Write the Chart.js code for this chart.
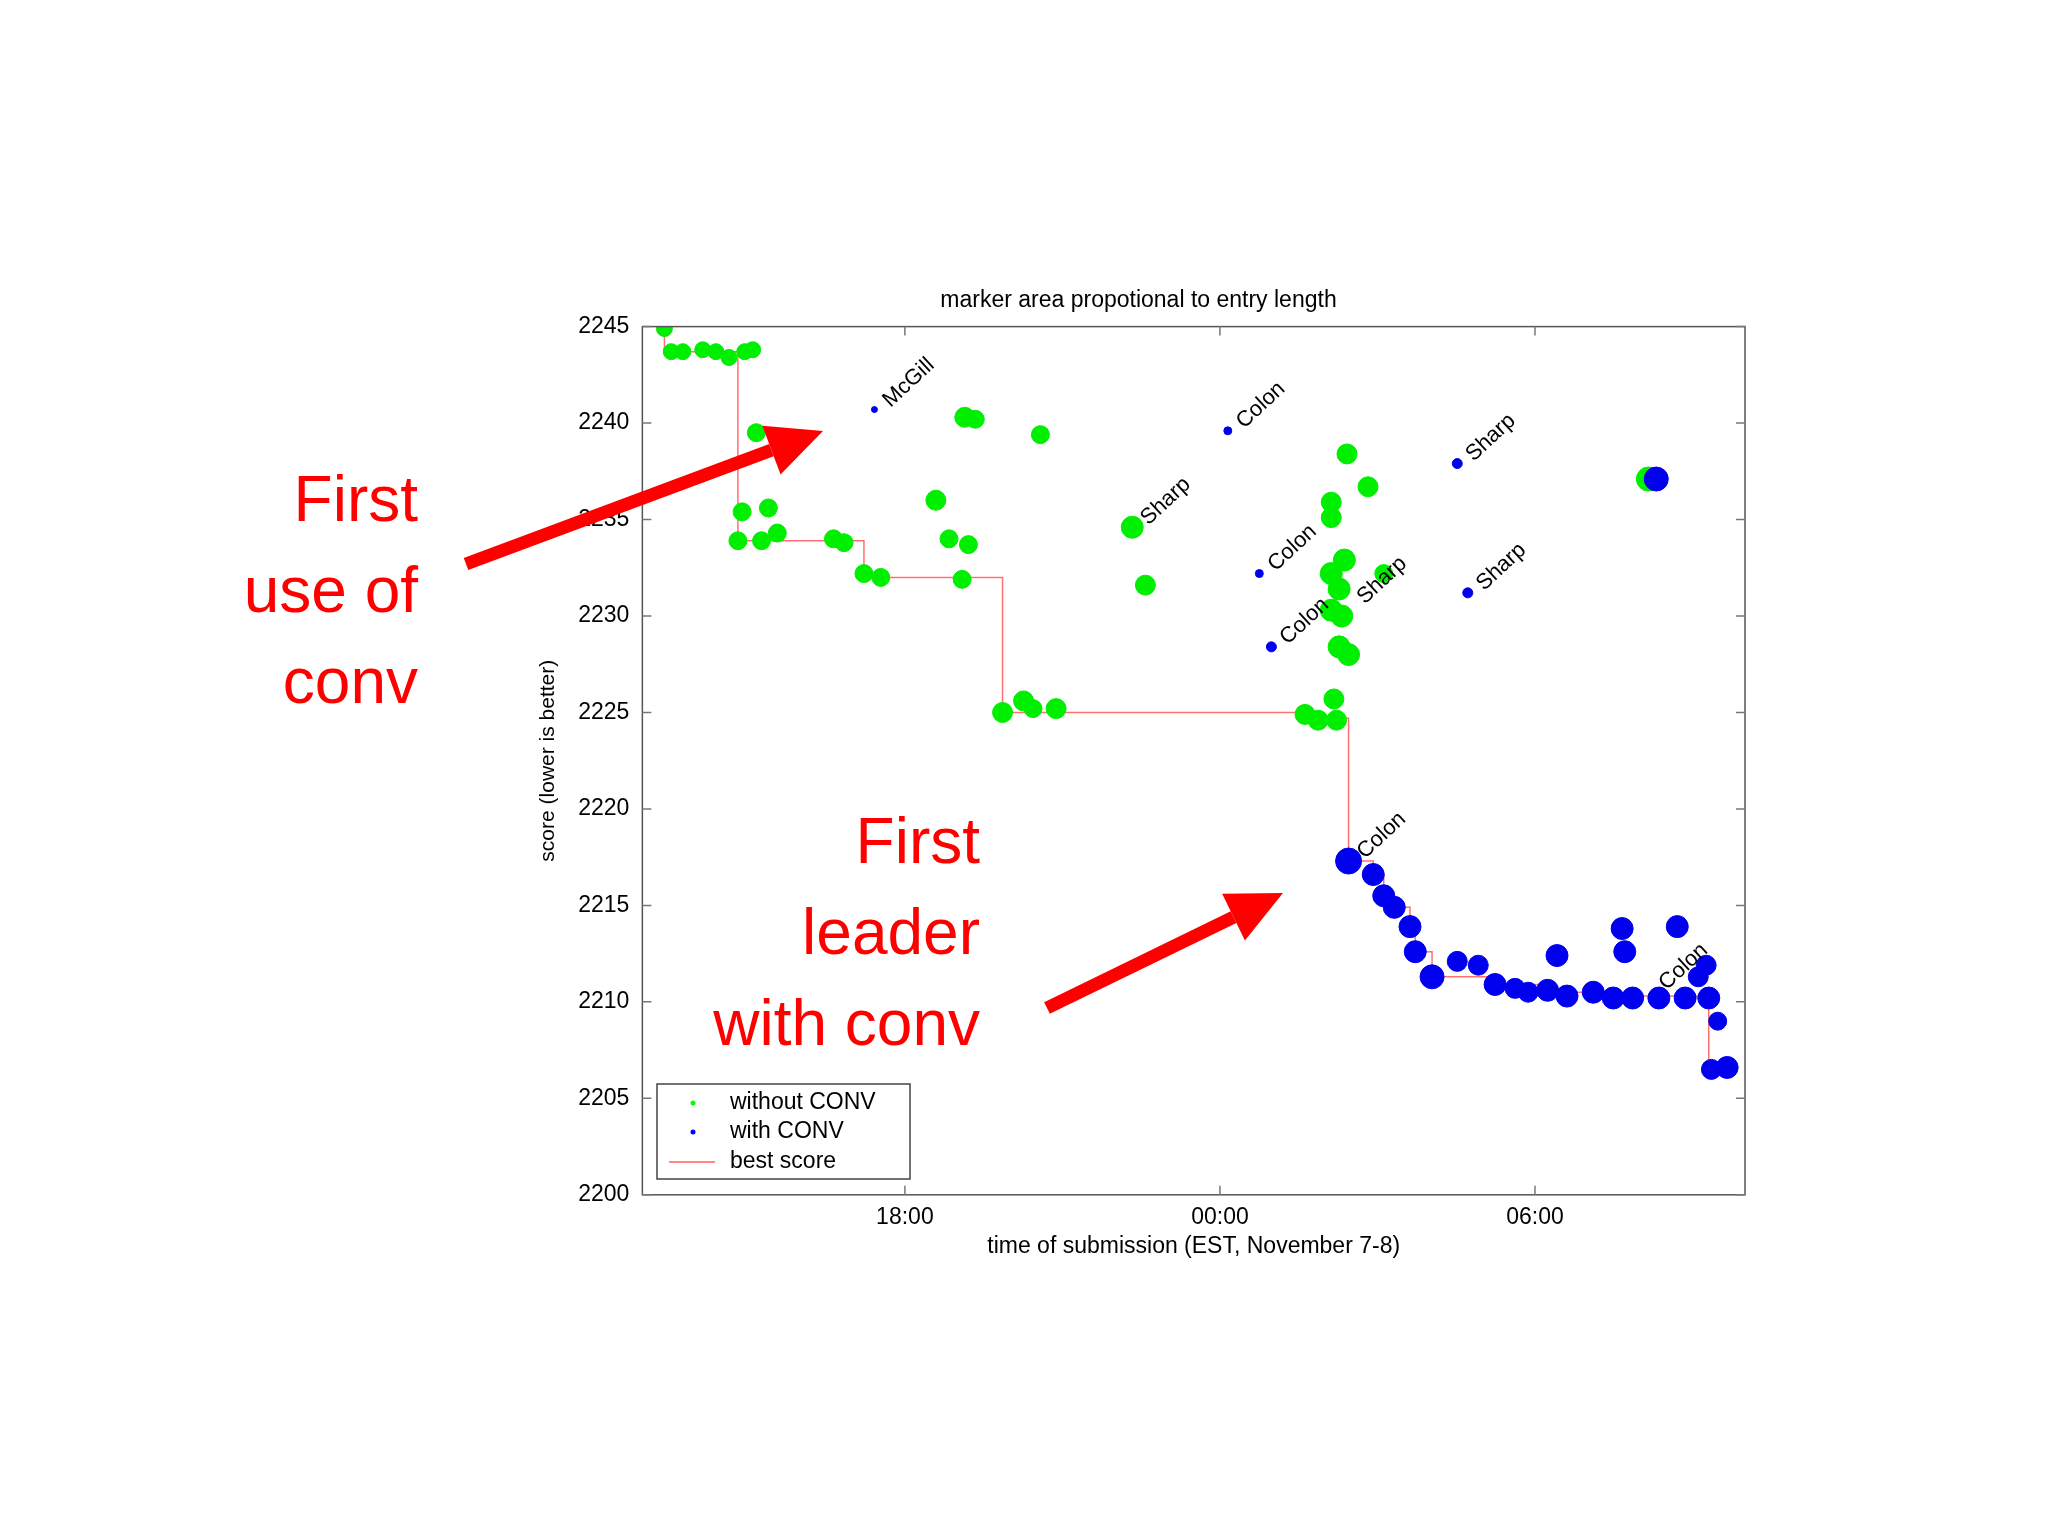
<!DOCTYPE html>
<html>
<head>
<meta charset="utf-8">
<script src="https://cdn.jsdelivr.net/npm/chart.js@4/dist/chart.umd.min.js"></script>
<style>
  html, body { margin: 0; padding: 0; background: #fff; }
  #wrap { width: 2048px; height: 1536px; }
</style>
</head>
<body>
<div id="wrap"><canvas id="chart" width="2048" height="1536"></canvas></div>
<script>
// hours since midnight Nov 7 (24 = 00:00 Nov 8)
const greenX = [13.42, 13.55, 13.77, 14.15, 14.40, 14.65, 14.95, 15.10, 15.17, 14.90, 15.40, 14.82, 15.27, 15.57,
  16.64, 16.84, 17.22, 17.54, 18.59, 18.84, 19.21, 19.09, 19.14, 19.34, 20.58, 19.86, 20.26, 20.44, 20.88,
  22.33, 22.58, 25.62, 25.87, 26.17, 26.22, 26.42, 26.82, 26.12, 26.12, 26.12, 26.37, 26.27, 26.32, 26.12,
  26.45, 26.27, 27.12, 32.16];
const greenY = [2244.9, 2243.7, 2243.7, 2243.8, 2243.7, 2243.4, 2243.7, 2243.8, 2239.5, 2235.4, 2235.6, 2233.9, 2233.9, 2234.3,
  2234.0, 2233.8, 2232.2, 2232.0, 2236.0, 2234.0, 2233.7, 2231.9, 2240.3, 2240.2, 2239.4, 2225.0, 2225.6, 2225.2, 2225.2,
  2234.6, 2231.6, 2224.9, 2224.6, 2225.7, 2224.6, 2238.4, 2236.7, 2235.9, 2235.1, 2232.2, 2232.9, 2231.4, 2230.0, 2230.3,
  2228.0, 2228.4, 2232.2, 2237.1];
const greenR = [8, 8, 8, 8, 8, 8, 8, 8, 9, 9, 9, 9, 9, 9,
  9, 9, 9, 9, 10, 9, 9, 9, 10, 9, 9, 10, 10, 9, 10,
  11, 10, 10, 10, 10, 10, 10, 10, 10, 10, 11, 11, 11, 11, 11,
  11, 11, 9, 12];

const blueX = [26.45, 26.92, 27.12, 27.32, 27.62, 27.72, 28.04, 28.52, 28.92, 29.24, 29.62, 29.87, 30.24, 30.42,
  30.61, 31.11, 31.49, 31.66, 31.71, 31.86, 32.36, 32.71, 32.86, 33.11, 33.26, 33.31, 33.48, 33.36, 33.66, 32.31];
const blueY = [2217.3, 2216.6, 2215.5, 2214.9, 2213.9, 2212.6, 2211.3, 2212.1, 2211.9, 2210.9, 2210.7, 2210.5, 2210.6, 2212.4,
  2210.3, 2210.5, 2210.2, 2213.8, 2212.6, 2210.2, 2210.2, 2213.9, 2210.2, 2211.3, 2211.9, 2210.2, 2209.0, 2206.5, 2206.6, 2237.1];
const blueR = [13, 11, 11, 11, 11, 11, 12, 10, 10, 11, 10, 10, 11, 11,
  11, 11, 11, 11, 11, 11, 11, 11, 11, 10, 10, 11, 9, 10, 11, 12];

// small entries with names
const namedX = [17.42, 24.15, 24.75, 24.98, 28.52, 28.72];
const namedY = [2240.7, 2239.6, 2232.2, 2228.4, 2237.9, 2231.2];
const namedR = [3, 4, 4, 5, 5, 5];

const labelText = ["McGill", "Colon", "Colon", "Colon", "Sharp", "Sharp", "Sharp", "Sharp", "Colon", "Colon"];
const labelX = [17.42, 24.15, 24.75, 24.98, 28.52, 28.72, 22.33, 26.45, 26.45, 32.2];
const labelY = [2240.7, 2239.6, 2232.2, 2228.4, 2237.9, 2231.2, 2234.6, 2230.5, 2217.3, 2210.5];

const bestX = [13.35, 13.42, 14.82, 17.22, 19.86, 25.62, 26.45, 26.92, 27.12, 27.32, 27.62, 27.72, 28.04, 29.24, 30.24, 31.5, 33.31, 33.4];
const bestY = [2244.9, 2243.7, 2233.9, 2232.0, 2225.0, 2224.7, 2217.3, 2216.6, 2215.5, 2214.9, 2213.9, 2212.6, 2211.3, 2210.9, 2210.5, 2210.3, 2206.5, 2206.5];

const xTicks = [18, 24, 30];
const xTickLabels = ["18:00", "00:00", "06:00"];
const yTicks = [2200, 2205, 2210, 2215, 2220, 2225, 2230, 2235, 2240, 2245];

const pts = (xs, ys) => xs.map((x, i) => ({ x, y: ys[i] }));
const FONT = "'Liberation Sans', Arial, sans-serif";

const overlay = {
  id: "overlay",
  afterDraw(chart) {
    const { ctx, chartArea: a, scales: { x, y } } = chart;
    ctx.save();
    // box and inward ticks
    ctx.strokeStyle = "#555";
    ctx.lineWidth = 1.5;
    ctx.strokeRect(a.left, a.top, a.right - a.left, a.bottom - a.top);
    ctx.strokeStyle = "#777";
    xTicks.forEach(t => {
      const px = x.getPixelForValue(t);
      ctx.beginPath();
      ctx.moveTo(px, a.bottom); ctx.lineTo(px, a.bottom - 9);
      ctx.moveTo(px, a.top); ctx.lineTo(px, a.top + 9);
      ctx.stroke();
    });
    yTicks.forEach(t => {
      const py = y.getPixelForValue(t);
      ctx.beginPath();
      ctx.moveTo(a.left, py); ctx.lineTo(a.left + 9, py);
      ctx.moveTo(a.right, py); ctx.lineTo(a.right - 9, py);
      ctx.stroke();
    });
    // entry labels
    ctx.fillStyle = "#000";
    ctx.font = "22px " + FONT;
    labelText.forEach((t, i) => {
      ctx.save();
      ctx.translate(x.getPixelForValue(labelX[i]) + 12, y.getPixelForValue(labelY[i]) - 6);
      ctx.rotate(-Math.PI / 4.2);
      ctx.textAlign = "left";
      ctx.textBaseline = "middle";
      ctx.fillText(t, 0, 0);
      ctx.restore();
    });
    // legend
    const lx = 657, ly = 1084, lw = 253, lh = 95;
    ctx.fillStyle = "#fff";
    ctx.fillRect(lx, ly, lw, lh);
    ctx.strokeStyle = "#444";
    ctx.lineWidth = 1.5;
    ctx.strokeRect(lx, ly, lw, lh);
    ctx.font = "23px " + FONT;
    ctx.textBaseline = "middle";
    ctx.textAlign = "left";
    ctx.fillStyle = "#00ff00";
    ctx.beginPath(); ctx.arc(lx + 36, ly + 19, 2.5, 0, 7); ctx.fill();
    ctx.fillStyle = "#0000ff";
    ctx.beginPath(); ctx.arc(lx + 36, ly + 48, 2.5, 0, 7); ctx.fill();
    ctx.strokeStyle = "#ff6060";
    ctx.beginPath(); ctx.moveTo(lx + 12, ly + 78); ctx.lineTo(lx + 58, ly + 78); ctx.stroke();
    ctx.fillStyle = "#000";
    ctx.fillText("without CONV", lx + 73, ly + 19);
    ctx.fillText("with CONV", lx + 73, ly + 48);
    ctx.fillText("best score", lx + 73, ly + 78);
    // annotations
    ctx.fillStyle = "#ff0000";
    ctx.font = "64px " + FONT;
    ctx.textAlign = "right";
    ["First", "use of", "conv"].forEach((t, i) => ctx.fillText(t, 418, 503 + i * 91));
    ["First", "leader", "with conv"].forEach((t, i) => ctx.fillText(t, 980, 845 + i * 91));
    const arrow = (x0, y0, x1, y1) => {
      const ang = Math.atan2(y1 - y0, x1 - x0);
      const hl = 55, hw = 26;
      const bx = x1 - hl * Math.cos(ang), by = y1 - hl * Math.sin(ang);
      ctx.strokeStyle = "#ff0000";
      ctx.lineWidth = 13;
      ctx.beginPath(); ctx.moveTo(x0, y0); ctx.lineTo(bx, by); ctx.stroke();
      ctx.beginPath();
      ctx.moveTo(x1, y1);
      ctx.lineTo(bx + hw * Math.sin(ang), by - hw * Math.cos(ang));
      ctx.lineTo(bx - hw * Math.sin(ang), by + hw * Math.cos(ang));
      ctx.closePath(); ctx.fill();
    };
    arrow(466, 564, 823, 431);
    arrow(1047, 1008, 1283, 893);
    ctx.restore();
  }
};

new Chart(document.getElementById("chart"), {
  type: "scatter",
  data: {
    datasets: [
      { label: "best score", type: "line", data: pts(bestX, bestY), stepped: true,
        borderColor: "#ff7070", borderWidth: 1.5, pointRadius: 0, fill: false, order: 3 },
      { label: "without CONV", data: pts(greenX, greenY), pointRadius: greenR,
        backgroundColor: "#00ee00", borderColor: "#00ee00", order: 2 },
      { label: "with CONV", data: pts(blueX, blueY).concat(pts(namedX, namedY)),
        pointRadius: blueR.concat(namedR),
        backgroundColor: "#0000ee", borderColor: "#0000ee", order: 1 }
    ]
  },
  options: {
    responsive: false,
    animation: false,
    layout: { padding: { left: 532, right: 303, top: 287, bottom: 272 } },
    plugins: {
      legend: { display: false },
      tooltip: { enabled: false },
      title: { display: true, text: "marker area propotional to entry length",
        color: "#000", font: { family: FONT, size: 23, weight: "normal" }, padding: { bottom: 12 } }
    },
    scales: {
      x: {
        type: "linear", min: 13, max: 34,
        afterBuildTicks: s => { s.ticks = xTicks.map(v => ({ value: v })); },
        ticks: { callback: v => xTickLabels[xTicks.indexOf(v)], color: "#000",
          font: { family: FONT, size: 23 }, maxRotation: 0, padding: 1 },
        grid: { display: false },
        border: { display: false },
        title: { display: true, text: "time of submission (EST, November 7-8)", color: "#000",
          font: { family: FONT, size: 23 }, padding: { top: 0 } }
      },
      y: {
        min: 2200, max: 2245,
        afterBuildTicks: s => { s.ticks = yTicks.map(v => ({ value: v })); },
        ticks: { callback: v => String(v), color: "#000", font: { family: FONT, size: 23 }, padding: 5 },
        grid: { display: false },
        border: { display: false },
        title: { display: true, text: "score (lower is better)", color: "#000",
          font: { family: FONT, size: 21 }, padding: { bottom: 12 } }
      }
    }
  },
  plugins: [overlay]
});
</script>
</body>
</html>
